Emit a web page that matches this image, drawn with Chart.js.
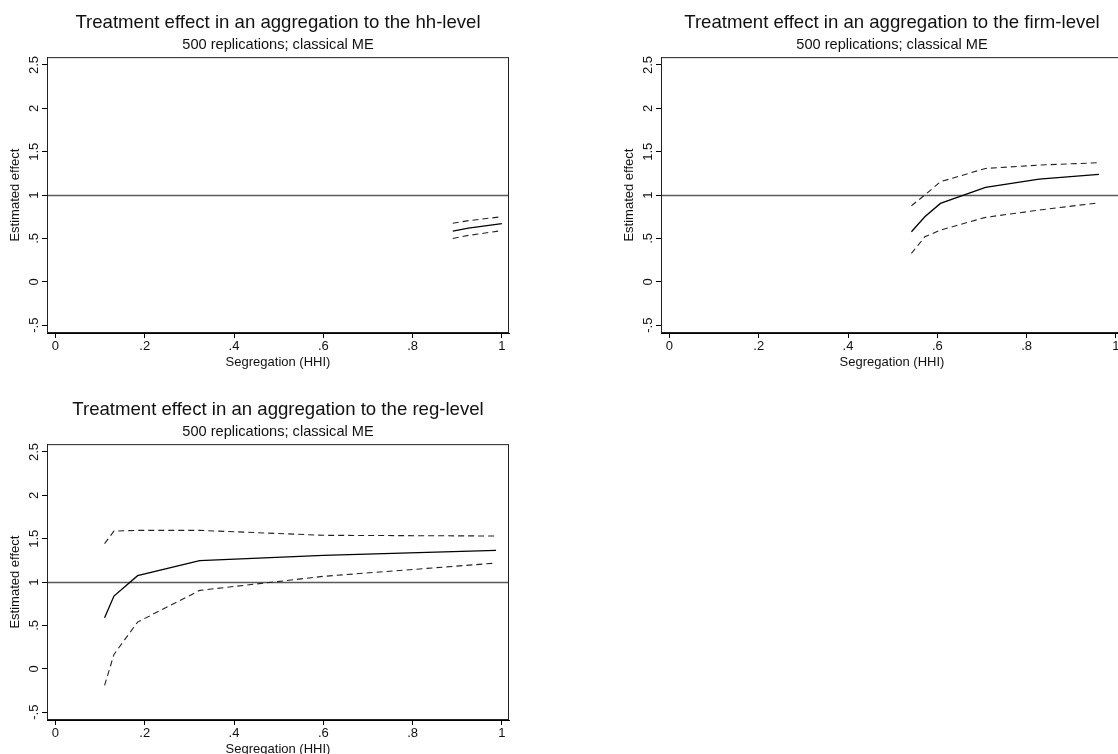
<!DOCTYPE html>
<html>
<head>
<meta charset="utf-8">
<script src="https://cdn.jsdelivr.net/npm/chart.js@4.4.1/dist/chart.umd.min.js"></script>
<style>
  html, body { margin: 0; padding: 0; background: #fff; overflow: hidden; }
  #wrap { position: relative; width: 1118px; height: 754px; overflow: hidden; }
  canvas { position: absolute; }
</style>
</head>
<body>
<div id="wrap">
  <canvas id="hhChart" width="559" height="375" style="left:0;top:0"></canvas>
  <canvas id="firmChart" width="559" height="375" style="left:614px;top:0"></canvas>
  <canvas id="regChart" width="559" height="375" style="left:0;top:387px"></canvas>
</div>
<script>
const xTickValues = [0, 0.2, 0.4, 0.6, 0.8, 1];
const xTickLabels = ['0', '.2', '.4', '.6', '.8', '1'];
const yTickValues = [-0.5, 0, 0.5, 1, 1.5, 2, 2.5];
const yTickLabels = ['-.5', '0', '.5', '1', '1.5', '2', '2.5'];
const refLine = 1;

// hh-level
const hhX = [0.89, 0.925, 1.0];
const hhEst = [0.585, 0.62, 0.67];
const hhUpper = [0.675, 0.705, 0.75];
const hhLower = [0.5, 0.535, 0.59];

// firm-level
const firmX = [0.542, 0.572, 0.607, 0.708, 0.828, 0.962];
const firmEst = [0.577, 0.75, 0.904, 1.089, 1.185, 1.238];
const firmUpper = [0.877, 1.0, 1.154, 1.307, 1.346, 1.373];
const firmLower = [0.327, 0.519, 0.596, 0.743, 0.827, 0.911];

// reg-level
const regX = [0.11, 0.131, 0.184, 0.323, 0.6, 0.987];
const regEst = [0.589, 0.839, 1.074, 1.247, 1.308, 1.366];
const regUpper = [1.443, 1.588, 1.596, 1.596, 1.539, 1.531];
const regLower = [-0.191, 0.166, 0.539, 0.904, 1.066, 1.219];

const subtitleText = '500 replications; classical ME';
const fontFamily = '"Liberation Sans", Arial, sans-serif';
const textColor = '#111';
const axisFontSize = 13;

// frame, reference line at 1 and vertical y tick labels (Stata style)
const stataFrame = {
  id: 'stataFrame',
  beforeDatasetsDraw(chart) {
    const { ctx, chartArea: a, scales: { y } } = chart;
    const py = Math.round(y.getPixelForValue(refLine)) + 0.5;
    ctx.save();
    ctx.strokeStyle = '#5a5a5a';
    ctx.lineWidth = 1.3;
    ctx.beginPath();
    ctx.moveTo(a.left, py);
    ctx.lineTo(a.right, py);
    ctx.stroke();
    ctx.restore();
  },
  afterDraw(chart) {
    const { ctx, chartArea: a, scales: { y } } = chart;
    ctx.save();
    ctx.strokeStyle = '#222';
    ctx.lineWidth = 1;
    ctx.strokeRect(a.left + 0.5, a.top + 0.5, a.width - 1, a.height - 1);
    ctx.fillStyle = textColor;
    ctx.font = axisFontSize + 'px ' + fontFamily;
    ctx.textAlign = 'center';
    ctx.textBaseline = 'middle';
    yTickValues.forEach(function(v, i) {
      ctx.save();
      ctx.translate(a.left - 13, y.getPixelForValue(v));
      ctx.rotate(-Math.PI / 2);
      ctx.fillText(yTickLabels[i], 0, 0);
      ctx.restore();
    });
    ctx.restore();
  }
};

function toPoints(xs, ys) {
  return xs.map(function(x, i) { return { x: x, y: ys[i] }; });
}

function makePanel(canvasId, title, xs, est, lower, upper) {
  const ctx = document.getElementById(canvasId).getContext('2d');
  const band = {
    borderColor: '#222',
    borderWidth: 1.1,
    borderDash: [6, 4],
    pointRadius: 0,
    fill: false,
    tension: 0,
  };
  new Chart(ctx, {
    type: 'line',
    data: {
      datasets: [
        Object.assign({ label: 'upper', data: toPoints(xs, upper) }, band),
        Object.assign({ label: 'lower', data: toPoints(xs, lower) }, band),
        {
          label: 'estimate',
          data: toPoints(xs, est),
          borderColor: '#000',
          borderWidth: 1.3,
          pointRadius: 0,
          fill: false,
          tension: 0,
        },
      ],
    },
    options: {
      responsive: false,
      animation: false,
      devicePixelRatio: 1,
      layout: { padding: { left: 0, right: 50, top: 0, bottom: 0 } },
      plugins: {
        legend: { display: false },
        tooltip: { enabled: false },
        title: {
          display: true,
          fullSize: false,
          text: title,
          color: textColor,
          font: { family: fontFamily, size: 18.6, weight: 'normal' },
          padding: { top: 11.8, bottom: 1.6 },
        },
        subtitle: {
          display: true,
          fullSize: false,
          text: subtitleText,
          color: textColor,
          font: { family: fontFamily, size: 14.6, weight: 'normal' },
          padding: { top: 0, bottom: 3.9 },
        },
      },
      scales: {
        x: {
          type: 'linear',
          min: -0.019,
          max: 1.016,
          afterBuildTicks: function(s) { s.ticks = xTickValues.map(function(v) { return { value: v }; }); },
          afterFit: function(s) { s.height = 42; },
          grid: { drawOnChartArea: false, drawTicks: true, tickLength: 5, color: '#000' },
          border: { color: '#000', width: 1 },
          ticks: {
            color: textColor,
            font: { family: fontFamily, size: axisFontSize },
            padding: 1,
            maxRotation: 0,
            autoSkip: false,
            callback: function(v, i) { return xTickLabels[i]; },
          },
          title: {
            display: true,
            text: 'Segregation (HHI)',
            color: textColor,
            font: { family: fontFamily, size: axisFontSize },
            padding: { top: 0, bottom: 5 },
          },
        },
        y: {
          type: 'linear',
          min: -0.59,
          max: 2.59,
          afterBuildTicks: function(s) { s.ticks = yTickValues.map(function(v) { return { value: v }; }); },
          afterFit: function(s) { s.width = 47; },
          grid: { drawOnChartArea: false, drawTicks: true, tickLength: 5, color: '#000' },
          border: { color: '#000', width: 1 },
          ticks: { display: false },
          title: {
            display: true,
            text: 'Estimated effect',
            color: textColor,
            font: { family: fontFamily, size: axisFontSize },
            padding: { top: 8, bottom: 0 },
          },
        },
      },
    },
    plugins: [stataFrame],
  });
}

document.addEventListener('DOMContentLoaded', function() {
  makePanel('hhChart', 'Treatment effect in an aggregation to the hh-level', hhX, hhEst, hhLower, hhUpper);
  makePanel('firmChart', 'Treatment effect in an aggregation to the firm-level', firmX, firmEst, firmLower, firmUpper);
  makePanel('regChart', 'Treatment effect in an aggregation to the reg-level', regX, regEst, regLower, regUpper);
});
</script>
</body>
</html>
